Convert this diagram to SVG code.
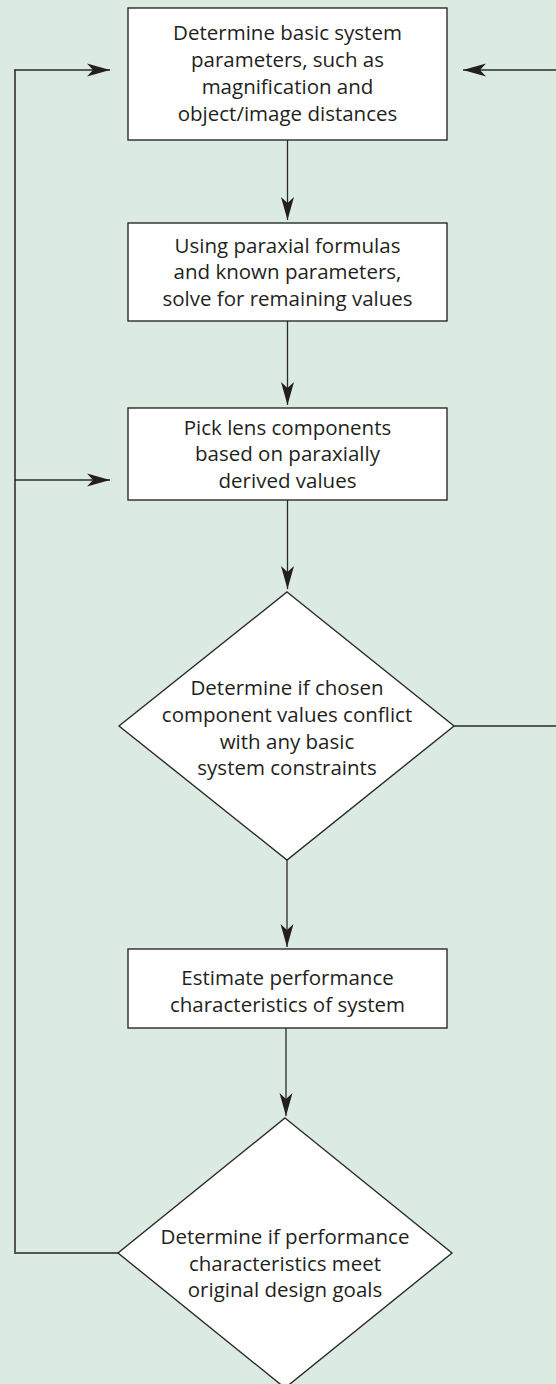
<svg xmlns="http://www.w3.org/2000/svg" width="556" height="1384" viewBox="0 0 556 1384">
<defs>
<marker id="ah" markerUnits="userSpaceOnUse" markerWidth="26" markerHeight="16" viewBox="-24 -8 26 16" refX="0" refY="0" orient="auto">
<path d="M0,0 L-23,-6.5 L-17,0 L-23,6.5 Z" fill="#231f20"/>
</marker>
<style>
.bg{fill:#dcebe1}
.node{fill:#ffffff;stroke:#2b2b2b;stroke-width:1.4}
.lbl{font-family:"Open Sans","Noto Sans","Liberation Sans",sans-serif;font-size:20.5px;fill:#231f20;text-anchor:middle}
.con{fill:none;stroke:#2b2b2b;stroke-width:1.3}
.con2{fill:none;stroke:#555555;stroke-width:2}
</style>
</defs>
<rect class="bg" x="0" y="0" width="556" height="1384"/>
<g id="connectors">
<line class="con" x1="287.5" y1="140" x2="287.5" y2="220" marker-end="url(#ah)"/>
<line class="con" x1="287.5" y1="321" x2="287.5" y2="405" marker-end="url(#ah)"/>
<line class="con" x1="287.5" y1="500" x2="287.5" y2="589" marker-end="url(#ah)"/>
<line class="con" x1="287" y1="860" x2="287" y2="947" marker-end="url(#ah)"/>
<line class="con" x1="286" y1="1028" x2="286" y2="1116" marker-end="url(#ah)"/>
<polyline class="con2" points="118,1253 15,1253 15,70"/>
<line class="con" x1="14" y1="70" x2="110" y2="70" marker-end="url(#ah)"/>
<line class="con" x1="15" y1="480" x2="110" y2="480" marker-end="url(#ah)"/>
<line class="con" x1="556" y1="70" x2="463" y2="70" marker-end="url(#ah)"/>
<line class="con" x1="454" y1="726" x2="556" y2="726"/>
</g>
<g id="n1">
<rect class="node" x="128" y="8" width="319" height="132"/>
<text class="lbl" x="287.5" y="40">Determine basic system</text>
<text class="lbl" x="287.5" y="67">parameters, such as</text>
<text class="lbl" x="287.5" y="94">magnification and</text>
<text class="lbl" x="287.5" y="121">object/image distances</text>
</g>
<g id="n2">
<rect class="node" x="128" y="223" width="319" height="98"/>
<text class="lbl" x="287.5" y="252.5">Using paraxial formulas</text>
<text class="lbl" x="287.5" y="279">and known parameters,</text>
<text class="lbl" x="287.5" y="305.5">solve for remaining values</text>
</g>
<g id="n3">
<rect class="node" x="128" y="408" width="319" height="92"/>
<text class="lbl" x="287.5" y="434.5">Pick lens components</text>
<text class="lbl" x="287.5" y="461">based on paraxially</text>
<text class="lbl" x="287.5" y="487.5">derived values</text>
</g>
<g id="n4">
<polygon class="node" points="287,592 454,726 287,860 119,726"/>
<text class="lbl" x="287" y="695">Determine if chosen</text>
<text class="lbl" x="287" y="722">component values conflict</text>
<text class="lbl" x="287" y="748.5">with any basic</text>
<text class="lbl" x="287" y="775">system constraints</text>
</g>
<g id="n5">
<rect class="node" x="128" y="949" width="319" height="79"/>
<text class="lbl" x="287.5" y="985">Estimate performance</text>
<text class="lbl" x="287.5" y="1011.5">characteristics of system</text>
</g>
<g id="n6">
<polygon class="node" points="285,1118 452,1253 285,1388 118,1253"/>
<text class="lbl" x="285" y="1244">Determine if performance</text>
<text class="lbl" x="285" y="1270.5">characteristics meet</text>
<text class="lbl" x="285" y="1297">original design goals</text>
</g>
</svg>
